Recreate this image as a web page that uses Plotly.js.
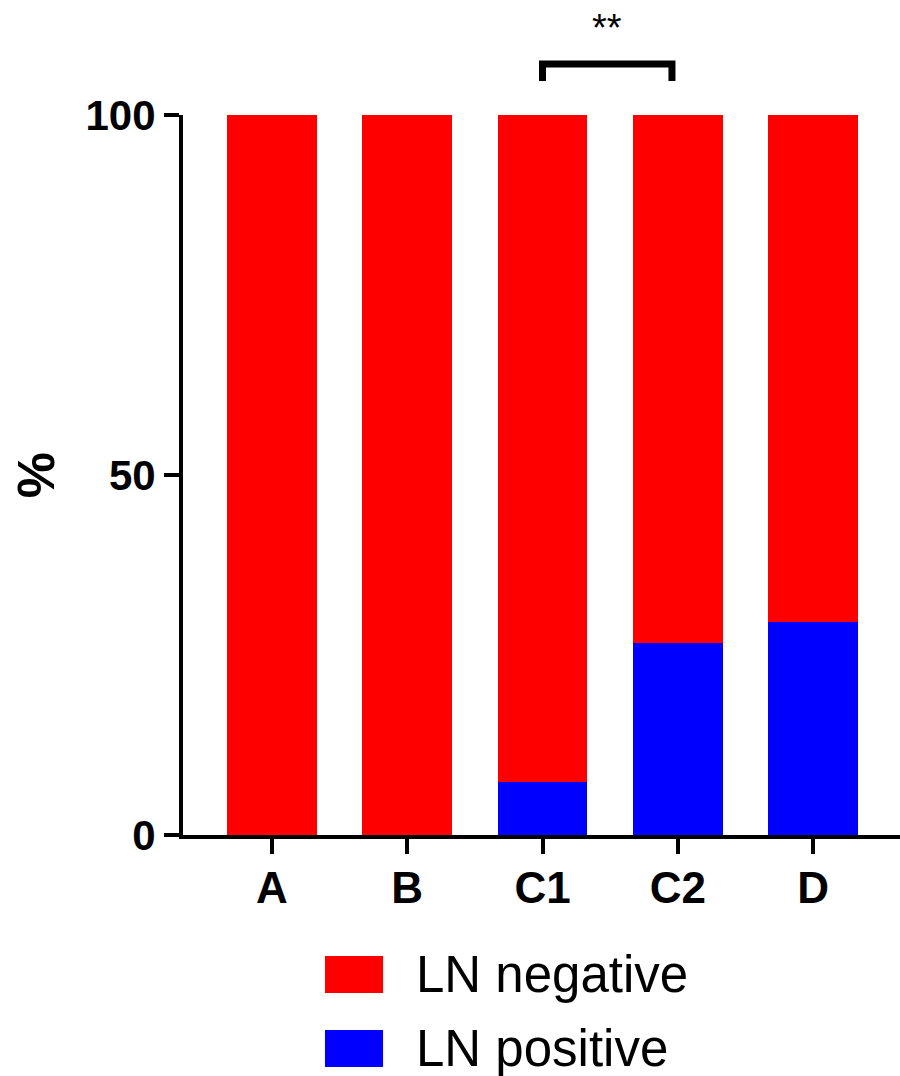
<!DOCTYPE html>
<html>
<head>
<meta charset="utf-8">
<script src="https://cdn.plot.ly/plotly-3.0.1.min.js"></script>
<style>
  html, body { margin: 0; padding: 0; background: #ffffff; }
  #chart { width: 900px; height: 1076px; }
</style>
</head>
<body>
<div id="chart"></div>
<script>
// ---- data ----
var categories = ["A", "B", "C1", "C2", "D"];
var lnPositive = [0, 0, 7.4, 26.7, 29.6];
var lnNegative = [100, 100, 92.6, 73.3, 70.4];
var seriesNames = ["LN negative", "LN positive"];
var seriesColors = ["#ff0000", "#0000ff"];
var yTickValues = [0, 50, 100];
var yTickLabels = ["0", "50", "100"];
var significance = { from: "C1", to: "C2", label: "**" };

var FONT = "Arial, 'Liberation Sans', Helvetica, sans-serif";

// stacked: positive at bottom, negative on top
var traces = [
  {
    type: "bar",
    name: seriesNames[1],
    x: categories,
    y: lnPositive,
    marker: { color: seriesColors[1], line: { width: 0 } },
    showlegend: false,
    hoverinfo: "x+y+name"
  },
  {
    type: "bar",
    name: seriesNames[0],
    x: categories,
    y: lnNegative,
    marker: { color: seriesColors[0], line: { width: 0 } },
    showlegend: false,
    hoverinfo: "x+y+name"
  }
];

var iFrom = categories.indexOf(significance.from);
var iTo = categories.indexOf(significance.to) - 0.043;
var brTop = 1.0708, brBot = 1.0472;

var shapes = [
  {
    type: "path", xref: "x", yref: "paper",
    path: "M " + iFrom + "," + brBot + " L " + iFrom + "," + brTop +
          " L " + iTo + "," + brTop + " L " + iTo + "," + brBot,
    line: { color: "#000000", width: 7 }
  }
];

// custom legend (large swatches as in reference)
var legendRows = [
  { name: seriesNames[0], color: seriesColors[0], y0: -0.168, y1: -0.2194 },
  { name: seriesNames[1], color: seriesColors[1], y0: -0.2708, y1: -0.3222 }
];
var annotations = [
  {
    xref: "x", yref: "paper",
    x: (iFrom + iTo) / 2, y: 1.121,
    text: significance.label, showarrow: false,
    xanchor: "center", yanchor: "middle",
    font: { family: FONT, size: 38, color: "#000000" }
  }
];
legendRows.forEach(function (r) {
  shapes.push({
    type: "rect", xref: "paper", yref: "paper",
    x0: 0.198, x1: 0.279, y0: r.y1, y1: r.y0,
    fillcolor: r.color, line: { width: 0 }
  });
  annotations.push({
    xref: "paper", yref: "paper",
    x: 0.322, y: (r.y0 + r.y1) / 2,
    text: r.name, showarrow: false,
    xanchor: "left", yanchor: "middle",
    font: { family: FONT, size: 51, color: "#000000" }
  });
});

var layout = {
  width: 900,
  height: 1076,
  margin: { l: 183, r: 0, t: 115, b: 241, pad: 0 },
  paper_bgcolor: "#ffffff",
  plot_bgcolor: "#ffffff",
  barmode: "stack",
  bargap: 0.335,
  showlegend: false,
  font: { family: FONT, color: "#000000" },
  xaxis: {
    type: "category",
    range: [-0.658, 4.643],
    showgrid: false,
    zeroline: false,
    showline: true,
    linecolor: "#000000",
    linewidth: 4,
    ticks: "outside",
    ticklen: 15,
    tickwidth: 4,
    tickcolor: "#000000",
    ticklabelstandoff: -4,
    tickfont: { family: FONT, size: 44, color: "#000000", weight: "bold" },
    fixedrange: true
  },
  yaxis: {
    range: [0, 100],
    tickmode: "array",
    tickvals: yTickValues,
    ticktext: yTickLabels,
    showgrid: false,
    zeroline: false,
    showline: true,
    linecolor: "#000000",
    linewidth: 4,
    ticks: "outside",
    ticklen: 15,
    tickwidth: 4,
    tickcolor: "#000000",
    tickfont: { family: FONT, size: 42, color: "#000000", weight: "bold" },
    title: { text: "%", standoff: 15, font: { family: FONT, size: 52, color: "#000000", weight: "bold" } },
    fixedrange: true
  },
  shapes: shapes,
  annotations: annotations
};

Plotly.newPlot("chart", traces, layout, { displayModeBar: false, staticPlot: false });
</script>
</body>
</html>
